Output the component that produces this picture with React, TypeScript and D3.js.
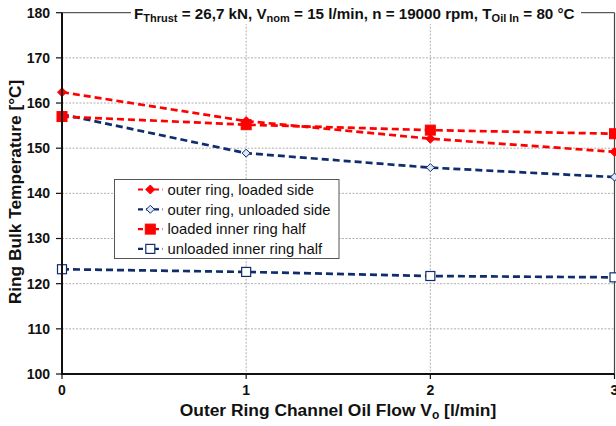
import React from "react";
import * as d3 from "d3";

const flows = [0, 1, 2, 3];
const outerLoaded = [162.4, 156.0, 152.1, 149.2];
const outerUnloaded = [157.5, 148.9, 145.7, 143.6];
const innerLoaded = [157.0, 155.2, 154.0, 153.2];
const innerUnloaded = [123.2, 122.6, 121.7, 121.4];
const yTicks = [100, 110, 120, 130, 140, 150, 160, 170, 180];
const xTicks = [0, 1, 2, 3];
const seriesNames = [
  "outer ring, loaded side",
  "outer ring, unloaded side",
  "loaded inner ring half",
  "unloaded inner ring half",
];

const RED = "#ff0000";
const NAVY = "#0f2d6c";
const FONT = "'Liberation Sans', Arial, sans-serif";

type Series = { name: string; values: number[]; color: string; marker: "diamond" | "square"; open: boolean };

const series: Series[] = [
  { name: seriesNames[0], values: outerLoaded, color: RED, marker: "diamond", open: false },
  { name: seriesNames[1], values: outerUnloaded, color: NAVY, marker: "diamond", open: true },
  { name: seriesNames[2], values: innerLoaded, color: RED, marker: "square", open: false },
  { name: seriesNames[3], values: innerUnloaded, color: NAVY, marker: "square", open: true },
];

function Marker({ s, x, y }: { s: Series; x: number; y: number }) {
  if (s.marker === "diamond") {
    const r = s.open ? 4 : 4.5;
    return (
      <path
        d={`M${x},${y - r}L${x + r},${y}L${x},${y + r}L${x - r},${y}Z`}
        fill={s.open ? "#dfe6f3" : s.color}
        stroke={s.color}
        strokeWidth={1}
      />
    );
  }
  const h = s.open ? 4.5 : 5;
  return (
    <rect
      x={x - h}
      y={y - h}
      width={2 * h}
      height={2 * h}
      fill={s.open ? "#ffffff" : s.color}
      stroke={s.color}
      strokeWidth={s.open ? 1.2 : 1}
    />
  );
}

export default function App() {
  const W = 616;
  const H = 426;
  const left = 62;
  const right = 614.5;
  const top = 12.7;
  const bottom = 374;

  const x = d3.scaleLinear().domain([0, 3]).range([left, right]);
  const y = d3.scaleLinear().domain([100, 180]).range([bottom, top]);
  const line = d3
    .line<number>()
    .x((_, i) => x(flows[i]))
    .y((d) => y(d));

  const legendX = 114.5;
  const legendY = 179.5;
  const legendW = 224.5;
  const legendH = 79;

  return (
    <svg
      width={W}
      height={H}
      style={{ position: "absolute", left: 0, top: 0, background: "#fff" }}
      fontFamily={FONT}
    >
      <rect width={W} height={H} fill="#fff" />
      {/* grid */}
      {yTicks.slice(1, -1).map((t) => (
        <line key={"gy" + t} x1={left} x2={right} y1={y(t)} y2={y(t)} stroke="#9a9a9a" strokeWidth={0.8} strokeDasharray="2,1.5" />
      ))}
      {xTicks.slice(1, -1).map((t) => (
        <line key={"gx" + t} x1={x(t)} x2={x(t)} y1={top} y2={bottom} stroke="#9a9a9a" strokeWidth={0.8} strokeDasharray="2,1.5" />
      ))}
      {/* frame */}
      <line x1={left} x2={right} y1={top} y2={top} stroke="#333" strokeWidth={1} />
      <line x1={right} x2={right} y1={top} y2={bottom} stroke="#444" strokeWidth={1.2} />
      {/* series lines */}
      {series.map((s) => (
        <path
          key={"l" + s.name}
          d={line(s.values) || ""}
          fill="none"
          stroke={s.color}
          strokeWidth={2.7}
          strokeDasharray="7,4"
        />
      ))}
      {series.map((s) =>
        s.values.map((v, i) => <Marker key={s.name + i} s={s} x={x(flows[i])} y={y(v)} />)
      )}
      {/* axes */}
      <line x1={left} x2={left} y1={top} y2={bottom + 1} stroke="#111" strokeWidth={2} />
      <line x1={left - 1} x2={right} y1={bottom} y2={bottom} stroke="#111" strokeWidth={2} />
      {yTicks.map((t) => (
        <g key={"yt" + t}>
          <line x1={left - 6} x2={left} y1={y(t)} y2={y(t)} stroke="#111" strokeWidth={1.2} />
          <text x={50} y={y(t)} dy="0.35em" textAnchor="end" fontSize={14} fontWeight="bold" fill="#111">
            {t}
          </text>
        </g>
      ))}
      {xTicks.map((t) => (
        <g key={"xt" + t}>
          <line x1={x(t)} x2={x(t)} y1={bottom} y2={bottom + 5} stroke="#111" strokeWidth={1.2} />
          <text x={x(t)} y={395} textAnchor="middle" fontSize={14} fontWeight="bold" fill="#111">
            {t}
          </text>
        </g>
      ))}
      {/* title over the top frame */}
      <rect x={131} y={2} width={450} height={22} fill="#fff" />
      <text x={134} y={19} fontSize={15.2} fontWeight="bold" fill="#111">
        <tspan>F</tspan>
        <tspan fontSize={11} dy={3}>Thrust</tspan>
        <tspan dy={-3}> = 26,7 kN, V</tspan>
        <tspan fontSize={11} dy={3}>nom</tspan>
        <tspan dy={-3}> = 15 l/min,  n = 19000 rpm, T</tspan>
        <tspan fontSize={11} dy={3}>Oil In</tspan>
        <tspan dy={-3}> = 80 °C</tspan>
      </text>
      {/* axis titles */}
      <text x={338} y={416} textAnchor="middle" fontSize={17.4} fontWeight="bold" fill="#111">
        <tspan>Outer Ring Channel Oil Flow V</tspan>
        <tspan fontSize={12} dy={3}>o</tspan>
        <tspan dy={-3}> [l/min]</tspan>
      </text>
      <text
        transform={`translate(21,192) rotate(-90)`}
        textAnchor="middle"
        fontSize={17.3}
        fontWeight="bold"
        fill="#111"
      >
        Ring Bulk Temperature [°C]
      </text>
      {/* legend */}
      <rect x={legendX} y={legendY} width={legendW} height={legendH} fill="#fff" stroke="#555" strokeWidth={1} />
      {series.map((s, i) => {
        const ry = 189.5 + i * 19.8;
        return (
          <g key={"lg" + s.name}>
            <line x1={138} x2={162.5} y1={ry} y2={ry} stroke={s.color} strokeWidth={2.2} strokeDasharray="5,3" />
            <Marker s={s} x={150.3} y={ry} />
            <text x={167.5} y={ry} dy="0.36em" fontSize={14.8} fill="#111">
              {s.name}
            </text>
          </g>
        );
      })}
      {/* caption below the figure, cut off at the page edge */}
      <text x={6} y={442} fontFamily="'Liberation Serif', 'Times New Roman', serif" fontSize={19} fill="#222">
        Fig. 16   Influence of outer ring channel oil flow on ring temperatures
      </text>
    </svg>
  );
}
